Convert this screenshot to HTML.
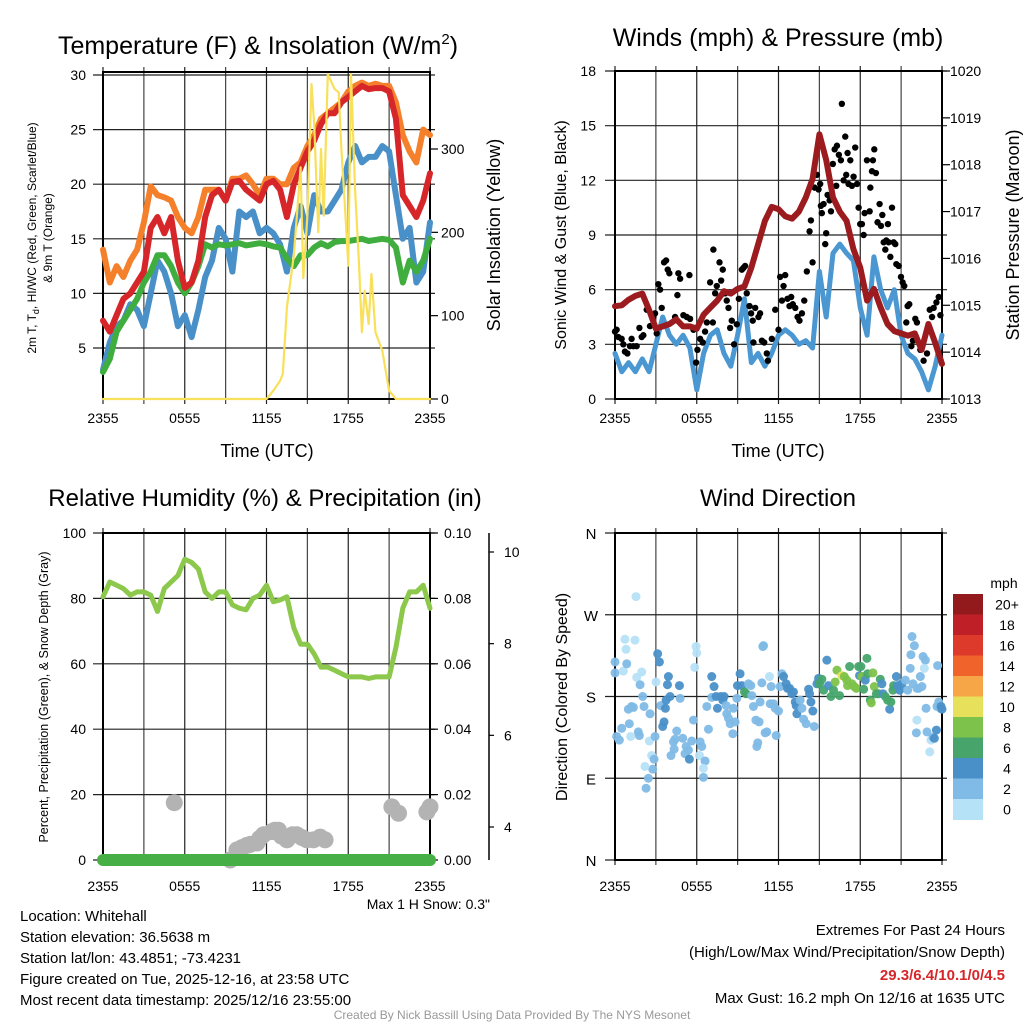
<!DOCTYPE html>
<html><head><meta charset="utf-8"><style>
html,body{margin:0;padding:0;background:#fff}
svg{display:block;font-family:"Liberation Sans",Arial,sans-serif}
</style></head><body>
<svg id="c" width="1024" height="1024" viewBox="0 0 1024 1024"></svg>
<script>
// ---------- DATA ----------
const hours = [0,0.5,1,1.5,2,2.5,3,3.5,4,4.5,5,5.5,6,6.5,7,7.5,8,8.5,9,9.5,10,10.5,11,11.5,12,12.5,13,13.5,14,14.5,15,15.5,16,16.5,17,17.5,18,18.5,19,19.5,20,20.5,21,21.5,22,22.5,23,23.5,24];
const temp9m = [14,11,12.5,11.5,13,14,16.5,19.8,19,18.8,18.5,17,16,15.5,17,19.5,19.5,19.5,18.5,20.5,20.5,20.8,20,19,20.5,20.5,20,20,21.5,22,23.5,24.5,26,26.5,27,27.5,28.5,29,29.3,29,29.2,29,29,27.5,24.5,23,22,25,24.5];
const temp2m = [7.5,6.5,8,9.5,10,11,12,16,17,15.5,17,13,10.5,11,13,17,19,19.5,18.5,20.2,20.3,19.5,19,18.5,20,20.3,19.5,17,20,21.5,23,24,25.5,26.5,26.5,27.5,28,28.5,29,28.7,28.8,28.8,28.5,26,19,18,17,18.5,21];
const windChill = [3,5.5,7,7.5,9,8.5,7,10,13,12,10,7,8,6,8.5,11.5,13,16,15,12,17.5,17,17.5,15.5,16,15.5,14.5,12,16,18,15.5,19,17.5,17.5,18.5,19.5,22,23.5,22,22.5,22.5,23.5,23,19,15,16,11,12,16.5];
const dewPoint = [2.8,4,6.5,7.5,8.5,9.5,11,12,13.5,13.5,12.5,11,10,11,12.5,14.5,14.2,14.5,14.4,14.5,14.6,14.4,14.5,14.6,14.5,14.3,14.2,13.2,12.5,13.5,13.5,14.2,14.6,14.3,14.7,14.8,14.8,14.9,15,14.8,14.9,15,14.9,14.2,11,13,12,13,15];
const solarT = [0,12,12.5,13,13.2,13.5,14,14.5,14.7,15,15.3,15.5,15.8,16,16.2,16.5,17,17.3,17.5,17.8,18,18.2,18.5,18.8,19,19.2,19.5,19.7,20,20.5,21,21.5,24];
const solarV = [0,0,10,22,30,110,172,278,145,220,378,330,200,300,220,390,372,368,300,220,160,390,250,160,80,130,90,150,80,58,10,0,0];
const windSpeed = [2.5,1.5,2,1.5,2.2,1.5,3,4.5,3.5,3,3.5,2.8,0.5,2.5,3.5,3.8,2.5,1.8,3.5,5.5,2,2.5,1.8,2.5,3.5,3.8,3.5,3,3.2,2.8,7,4.5,8,8.5,8,7.6,5,3.5,7.8,6,5,6,3.5,2.5,2.2,1.5,0.5,1.8,3.5];
const pressure = [1014.98,1015.0,1015.12,1015.2,1015.25,1014.9,1014.5,1014.55,1014.6,1014.7,1014.55,1014.55,1014.5,1014.8,1014.95,1015.1,1015.3,1015.25,1015.35,1015.4,1015.8,1016.3,1016.8,1017.1,1017.05,1016.9,1016.85,1017.0,1017.3,1017.7,1018.65,1018.1,1017.3,1017.0,1016.8,1016.2,1015.8,1015.1,1015.35,1014.95,1014.6,1014.45,1014.4,1014.35,1014.4,1014.05,1014.6,1014.2,1013.75];
const gustT = [0,0.12,0.24,0.49,0.61,0.73,0.91,1.10,1.22,1.35,1.59,1.79,1.96,2.08,2.33,2.57,2.82,2.94,3.06,3.18,3.31,3.43,3.60,3.75,3.87,3.99,4.41,4.58,4.65,4.78,5.02,5.27,5.46,5.51,5.76,5.95,6.05,6.25,6.44,6.61,6.74,6.98,7.18,7.22,7.35,7.47,7.67,7.79,7.91,8.08,8.20,8.33,8.45,8.57,8.74,8.94,9.09,9.31,9.43,9.55,9.67,9.87,9.99,10.11,10.16,10.29,10.53,10.65,10.78,10.95,11.14,11.22,11.51,11.76,12.0,12.12,12.25,12.37,12.49,12.66,12.81,12.93,13.05,13.23,13.40,13.54,13.72,13.89,14.08,14.28,14.38,14.50,14.65,14.82,14.94,15.06,15.11,15.18,15.31,15.43,15.50,15.60,15.75,15.85,15.99,16.12,16.24,16.29,16.43,16.58,16.65,16.78,16.90,16.97,17.07,17.14,17.27,17.39,17.51,17.63,17.76,17.88,18.0,18.12,18.25,18.32,18.49,18.69,18.74,18.86,18.93,19.03,19.15,19.27,19.42,19.52,19.62,19.72,19.84,19.91,20.03,20.08,20.21,20.33,20.45,20.57,20.65,20.82,20.99,21.11,21.23,21.38,21.48,21.60,21.75,21.87,22.04,22.16,22.41,22.65,22.90,23.10,23.27,23.39,23.59,23.76,23.88];
const gustV = [3.7,3.8,3.4,3.3,3.0,2.6,2.5,2.9,3.3,2.9,2.9,3.9,3.4,3.5,4.9,4.0,4.5,4.7,3.6,6.3,6.0,5.0,7.5,7.6,7.1,6.9,4.5,5.7,6.9,6.6,4.6,4.5,6.8,4.4,3.8,2.0,2.7,3.3,3.1,3.7,4.2,6.4,4.2,8.2,5.8,6.2,7.5,6.5,7.1,5.8,5.4,5.0,3.9,4.3,3.0,4.1,5.5,7.1,7.2,7.3,5.8,5.1,4.7,4.3,3.1,5.0,4.5,4.7,3.2,3.1,2.5,2.1,3.3,4.9,3.8,6.7,5.4,6.2,6.8,5.5,5.1,5.6,5.2,5.0,4.5,4.3,4.7,5.4,7.0,9.2,9.8,7.5,11.6,12.3,11.5,11.8,10.6,10.2,10.7,8.5,9.1,11.2,10.9,10.3,12.9,13.7,11.7,13.9,13.4,13.1,16.2,12.0,14.4,12.3,13.5,11.8,13.1,11.7,12.2,13.8,11.8,10.5,9.6,9.6,9.0,10.2,13.1,10.3,11.6,12.5,13.1,13.7,12.4,9.7,10.7,9.5,10.1,8.6,8.2,8.7,9.6,8.6,7.8,10.5,8.6,8.5,7.4,7.3,6.7,6.4,6.2,4.2,5.1,5.2,2.9,3.2,4.4,4.2,2.7,2.1,2.5,4.9,4.5,5.0,5.3,5.6,4.6];
const rh = [80.5,85,84,83,81,82,82,81,76,83,85,87,92,91,89,82,80,82,82,78,77,76.5,80,81,84,79,79.5,80.5,71,66,66,63,59,59,58,57,56,56,56,55.5,56,56,56,65,77,82,82,84,77];
const precip = [0,0,0,0,0,0,0,0,0,0,0,0,0,0,0,0,0,0,0,0,0,0,0,0,0,0,0,0,0,0,0,0,0,0,0,0,0,0,0,0,0,0,0,0,0,0,0,0,0];
const snowT = [5.23,9.34,9.83,10.2,10.56,10.8,11.3,11.5,11.78,12.4,12.6,12.88,13.1,13.5,13.9,14.23,14.6,14.96,15.45,15.94,16.3,21.2,21.69,23.77,24];
const snowV = [4.53,3.28,3.5,3.55,3.6,3.62,3.65,3.75,3.83,3.9,3.93,3.93,3.8,3.72,3.83,3.83,3.77,3.72,3.72,3.78,3.72,4.44,4.3,4.33,4.44];
const dirT = [1.54,0.73,1.47,0.81,0,0,0.61,0.86,1.59,1.96,1.84,2.03,0.98,1.35,1.22,2.13,2.57,1.05,0.49,0.12,0.32,1.15,1.71,1.79,2.52,2.94,2.69,2.87,2.77,2.20,2.45,2.28,3.13,3.26,3.01,3.92,3.85,3.36,3.70,3.75,4.04,3.60,3.50,4.53,4.41,4.29,4.34,4.11,4.78,4.73,4.97,5.22,5.14,5.39,5.46,5.63,5.76,5.95,6.0,5.85,6.25,6.37,6.20,6.61,6.49,6.49,6.86,6.74,7.10,7.27,7.10,7.42,7.52,7.76,7.91,8.01,8.20,8.16,8.33,8.45,8.65,8.69,8.82,8.94,8.99,9.18,9.31,9.50,9.63,9.80,9.97,10.04,10.16,10.34,10.58,10.41,10.48,10.65,10.78,10.85,10.90,11.14,11.02,11.39,11.46,11.34,11.63,11.76,11.83,12.0,12.12,12.25,12.37,12.56,12.66,12.81,12.98,13.10,13.23,13.30,13.35,13.59,13.72,13.84,14.03,14.21,14.28,14.38,14.52,14.62,14.82,14.94,15.01,15.18,15.31,15.55,15.67,15.85,16.04,16.16,16.29,16.48,16.65,16.83,17.02,17.07,17.22,17.39,17.56,17.71,17.88,17.95,18.05,18.12,18.25,18.37,18.49,18.54,18.74,18.81,18.93,19.03,19.18,19.35,19.47,19.59,19.67,19.84,20.01,20.16,20.25,20.40,20.45,20.65,20.74,20.89,21.06,21.31,21.48,21.67,21.72,21.80,21.97,21.87,22.16,22.29,22.41,22.53,22.61,22.78,22.70,22.83,22.16,22.12,22.90,23.10,23.19,23.34,23.44,23.59,23.68,23.76,23.63,23.88,24.0,23.93];
const dirV = [290,243,242,232,218,206,208,216,201,207,193,180,166,168,169,169,161,150,145,136,132,136,141,137,131,136,115,111,100,103,90,79,227,218,196,202,193,170,167,176,180,152,147,142,133,130,122,115,178,192,134,125,117,121,111,131,154,235,228,212,130,125,115,109,101,91,144,169,202,191,179,180,167,180,176,180,161,170,156,150,139,167,152,178,192,205,192,185,183,194,192,181,169,154,152,125,129,174,195,235,236,141,140,172,191,202,172,167,137,164,191,205,202,194,189,189,183,185,174,170,161,176,167,155,150,188,183,174,164,147,194,200,194,199,187,220,192,180,187,196,209,181,203,202,198,192,213,194,191,189,213,203,213,202,188,198,222,205,176,173,206,191,183,183,199,194,183,180,176,166,174,187,192,202,192,187,194,198,187,211,226,246,236,194,189,189,202,191,224,220,211,167,154,140,141,119,132,135,134,143,214,174,169,167,166,169];
const dirSpd = [1,1,1,1,3,3,1,3,1,1,3,3,3,3,3,3,3,3,3,3,3,1,3,3,1,3,1,3,3,1,3,3,5,5,1,5,5,3,5,5,5,5,5,3,3,3,3,3,3,5,3,3,3,3,5,3,3,1,1,1,3,3,1,3,1,3,3,3,5,5,3,5,5,5,5,5,3,3,3,3,3,3,3,3,5,5,5,7,7,3,3,3,3,3,3,3,3,3,3,3,3,3,3,3,3,1,3,3,3,3,3,3,5,5,5,5,5,5,5,5,5,3,3,3,3,5,5,5,5,3,5,5,7,7,7,5,5,7,7,9,9,7,11,9,9,9,7,9,9,9,7,5,7,9,7,5,7,7,7,9,9,9,7,7,7,5,5,7,7,5,7,7,7,5,5,5,5,3,3,3,3,3,3,3,3,3,3,3,3,3,1,3,1,3,3,1,1,3,5,5,3,3,3,3,5,5,5];
const cbLabels = ["20+","18","16","14","12","10","8","6","4","2","0"];
const cbColors = ["#921a1d","#bf1f26","#de3a2c","#f0642c","#f7a647","#e6e05a","#7dc24a","#47a56c","#4a90c8","#7fbbe6","#b6e2f7"];
const xTickLabels = ["2355","0555","1155","1755","2355"];
const p1LeftTicks = [5,10,15,20,25,30];
const p1RightTicks = [0,100,200,300];
const p2LeftTicks = [0,3,6,9,12,15,18];
const p2RightTicks = [1013,1014,1015,1016,1017,1018,1019,1020];
const p3LeftTicks = [0,20,40,60,80,100];
const p3RightTicks = ["0.00","0.02","0.04","0.06","0.08","0.10"];
const p3SnowTicks = [4,6,8,10];
const dirTicks = [0,90,180,270,360];
const dirTickLabels = ["N","E","S","W","N"];

// ---------- HELPERS ----------
const NS="http://www.w3.org/2000/svg";
const svg=document.getElementById('c');
function el(tag,attrs,parent,text){const e=document.createElementNS(NS,tag);for(const k in attrs)e.setAttribute(k,attrs[k]);if(text!==undefined)e.textContent=text;(parent||svg).appendChild(e);return e;}
function lin(d0,d1,r0,r1){return v=>r0+(v-d0)/(d1-d0)*(r1-r0);}
function grp(name){const g=el('g',{});return g;}
function polyline(g,xs,ys,sx,sy,color,w,name){const pts=xs.map((t,i)=>sx(t).toFixed(1)+','+sy(ys[i]).toFixed(1)).join(' ');const p=el('polyline',{points:pts,fill:'none',stroke:color,'stroke-width':w,'stroke-linejoin':'round','stroke-linecap':'round'},g);return p;}
function txt(g,x,y,s,size,anchor,name,extra){const t=el('text',Object.assign({x:x,y:y,'font-size':size,'text-anchor':anchor||'middle',fill:'#000'},extra||{}),g,s);return t;}
function frame(g,x0,x1,y0,y1,sy,yTicks,labOff){
  for(let i=0;i<=8;i++){const x=x0+(x1-x0)*i/8;const l=el('line',{x1:x,x2:x,y1:y0-5,y2:y1+5,stroke:i%2?'#444':'#222','stroke-width':1.2},g);}
  yTicks.forEach(v=>{const y=sy(v);const l=el('line',{x1:x0-10,x2:x1+5,y1:y,y2:y,stroke:'#222','stroke-width':1.2},g);});
  const b=el('rect',{x:x0,y:y0,width:x1-x0,height:y1-y0,fill:'none',stroke:'#000','stroke-width':2},g);
  xTickLabels.forEach((s,i)=>txt(g,x0+(x1-x0)*i/4,y1+labOff,s,14,'middle','x-tick-label'));
}
function rot(g,x,y,s,size,name){return txt(g,x,y,s,size,'middle',name,{transform:`rotate(-90 ${x} ${y})`});}

// ---------- PANEL 1 ----------
(function(){
const g=grp('temperature-panel');
const x0=103,x1=430,y0=72,y1=399;
const sx=lin(0,24,x0,x1), sy=lin(0,30,402.6,402.6-327.6), sr=lin(0,300,399,149);
frame(g,x0,x1,y0,y1,sy,p1LeftTicks,24);
p1LeftTicks.forEach(v=>txt(g,86,sy(v)+5,String(v),14,'end','left-tick-label'));
p1RightTicks.forEach(v=>{txt(g,441,sr(v)+5,String(v),14,'start','right-tick-label');el('line',{x1:x1,x2:x1+8,y1:sr(v),y2:sr(v),stroke:'#000','stroke-width':1.2},g);});
polyline(g,hours,temp9m,sx,sy,'#f4802c',6,'temp-9m-line');
polyline(g,hours,windChill,sx,sy,'#4a90c8',6,'wind-chill-line');
polyline(g,hours,dewPoint,sx,sy,'#3fae3f',6,'dewpoint-line');
polyline(g,hours,temp2m,sx,sy,'#d7262a',6,'temp-2m-line');
polyline(g,solarT,solarV,sx,sr,'#f8e05a',2.2,'solar-line');
const t=txt(g,258,54,'Temperature (F) & Insolation (W/m',25,'middle','panel-title');
el('tspan',{'font-size':15,dy:-10},t,'2');el('tspan',{dy:10},t,')');
txt(g,267,457,'Time (UTC)',18,'middle','x-axis-title');
const l1=rot(g,36,238,'',12,'left-axis-title-line1');
el('tspan',{},l1,'2m T, T');el('tspan',{'font-size':9,dy:3},l1,'d');el('tspan',{dy:-3},l1,', HI/WC (Red, Green, Scarlet/Blue)');
rot(g,52,238,'& 9m T (Orange)',12,'left-axis-title-line2');
rot(g,500,235,'Solar Insolation (Yellow)',18,'right-axis-title');
})();

// ---------- PANEL 2 ----------
(function(){
const g=grp('winds-panel');
const x0=615,x1=942,y0=71,y1=399;
const sx=lin(0,24,x0,x1), sy=lin(0,18,399,71), sp=lin(1013,1020,399,71);
frame(g,x0,x1,y0,y1,sy,p2LeftTicks,24);
p2LeftTicks.forEach(v=>txt(g,596,sy(v)+5,String(v),14,'end','left-tick-label'));
p2RightTicks.forEach(v=>{txt(g,950,sp(v)+5,String(v),14,'start','right-tick-label');el('line',{x1:x1,x2:x1+8,y1:sp(v),y2:sp(v),stroke:'#000','stroke-width':1.2},g);});
polyline(g,hours,windSpeed,sx,sy,'#4a97d2',5,'sonic-wind-line');
gustT.forEach((t,i)=>{const c=el('circle',{cx:sx(t),cy:sy(gustV[i]),r:3.2,fill:'#000'},g);});
polyline(g,hours,pressure,sx,sp,'#9b1b1e',6,'pressure-line');
txt(g,778,46,'Winds (mph) & Pressure (mb)',25,'middle','panel-title');
txt(g,778,457,'Time (UTC)',18,'middle','x-axis-title');
rot(g,566,235,'Sonic Wind & Gust (Blue, Black)',16,'left-axis-title');
rot(g,1019,235,'Station Pressure (Maroon)',18,'right-axis-title');
})();

// ---------- PANEL 3 ----------
(function(){
const g=grp('humidity-panel');
const x0=103,x1=430,y0=533,y1=860;
const sx=lin(0,24,x0,x1), sy=lin(0,100,860,533), sp=lin(0,0.10,860,533), ss=lin(4,10,827,552);
frame(g,x0,x1,y0,y1,sy,p3LeftTicks,31);
p3LeftTicks.forEach(v=>txt(g,86,sy(v)+5,String(v),14,'end','left-tick-label'));
p3RightTicks.forEach(v=>{txt(g,444,sp(+v)+5,v,14,'start','right-tick-label');el('line',{x1:x1,x2:x1+8,y1:sp(+v),y2:sp(+v),stroke:'#000','stroke-width':1.2},g);});
const ax=el('line',{x1:489,x2:489,y1:533,y2:860,stroke:'#000','stroke-width':1.5},g);
p3SnowTicks.forEach(v=>{el('line',{x1:489,x2:494,y1:ss(v),y2:ss(v),stroke:'#000','stroke-width':1.2},g);txt(g,504,ss(v)+5,String(v),14,'start','snow-tick-label');});
snowT.forEach((t,i)=>{const c=el('circle',{cx:sx(t),cy:ss(snowV[i]),r:8.5,fill:'#b3b3b3'},g);});
polyline(g,hours,precip,sx,sp,'#46b046',12,'precip-line');
polyline(g,hours,rh,sx,sy,'#8cc84b',5,'rh-line');
txt(g,265,506,'Relative Humidity (%) & Precipitation (in)',24,'middle','panel-title');
rot(g,48,697,'Percent, Precipitation (Green), & Snow Depth (Gray)',12.5,'left-axis-title');
txt(g,490,909,'Max 1 H Snow: 0.3"',14,'end','max-snow-label');
})();

// ---------- PANEL 4 ----------
(function(){
const g=grp('wind-direction-panel');
const x0=615,x1=942,y0=533,y1=860;
const sx=lin(0,24,x0,x1), sy=lin(0,360,860,533);
frame(g,x0,x1,y0,y1,sy,dirTicks,31);
dirTicks.forEach((v,i)=>txt(g,591,sy(v)+6,dirTickLabels[i],15,'middle','direction-tick-label'));
function col(s){const b=Math.min(10,Math.floor(s/2));return cbColors[10-b];}
dirT.forEach((t,i)=>{const c=el('circle',{cx:sx(t),cy:sy(dirV[i]),r:4.5,fill:col(dirSpd[i]),'fill-opacity':0.95},g);});
txt(g,778,506,'Wind Direction',24,'middle','panel-title');
rot(g,567,697,'Direction (Colored By Speed)',16,'left-axis-title');
const cb=el('g',{},g);
const h=20.5;
cbColors.forEach((c,i)=>{const r=el('rect',{x:953,y:594+i*h,width:30,height:h+0.5,fill:c},cb);
 txt(cb,1007,594+i*h+h/2+5,cbLabels[i],14,'middle','colorbar-label');});
txt(cb,1004,588,'mph',14,'middle','colorbar-title');
})();

// ---------- TEXT BLOCKS ----------
(function(){
const g=grp('station-info');
["Location: Whitehall","Station elevation: 36.5638 m","Station lat/lon: 43.4851; -73.4231","Figure created on Tue, 2025-12-16, at 23:58 UTC","Most recent data timestamp: 2025/12/16 23:55:00"].forEach((s,i)=>txt(g,20,921+i*21,s,15,'start','info-line'));
const r=grp('extremes-summary');
txt(r,1005,935,'Extremes For Past 24 Hours',15,'end','extremes-title');
txt(r,1005,957,'(High/Low/Max Wind/Precipitation/Snow Depth)',15,'end','extremes-subtitle');
txt(r,1005,980,'29.3/6.4/10.1/0/4.5',15,'end','extremes-values',{fill:'#d7262a','font-weight':'bold'});
txt(r,1005,1003,'Max Gust: 16.2 mph On 12/16 at 1635 UTC',15,'end','max-gust-line');
txt(svg,512,1019,'Created By Nick Bassill Using Data Provided By The NYS Mesonet',12,'middle','credit-footer',{fill:'#999'});
})();
</script>
</body></html>
